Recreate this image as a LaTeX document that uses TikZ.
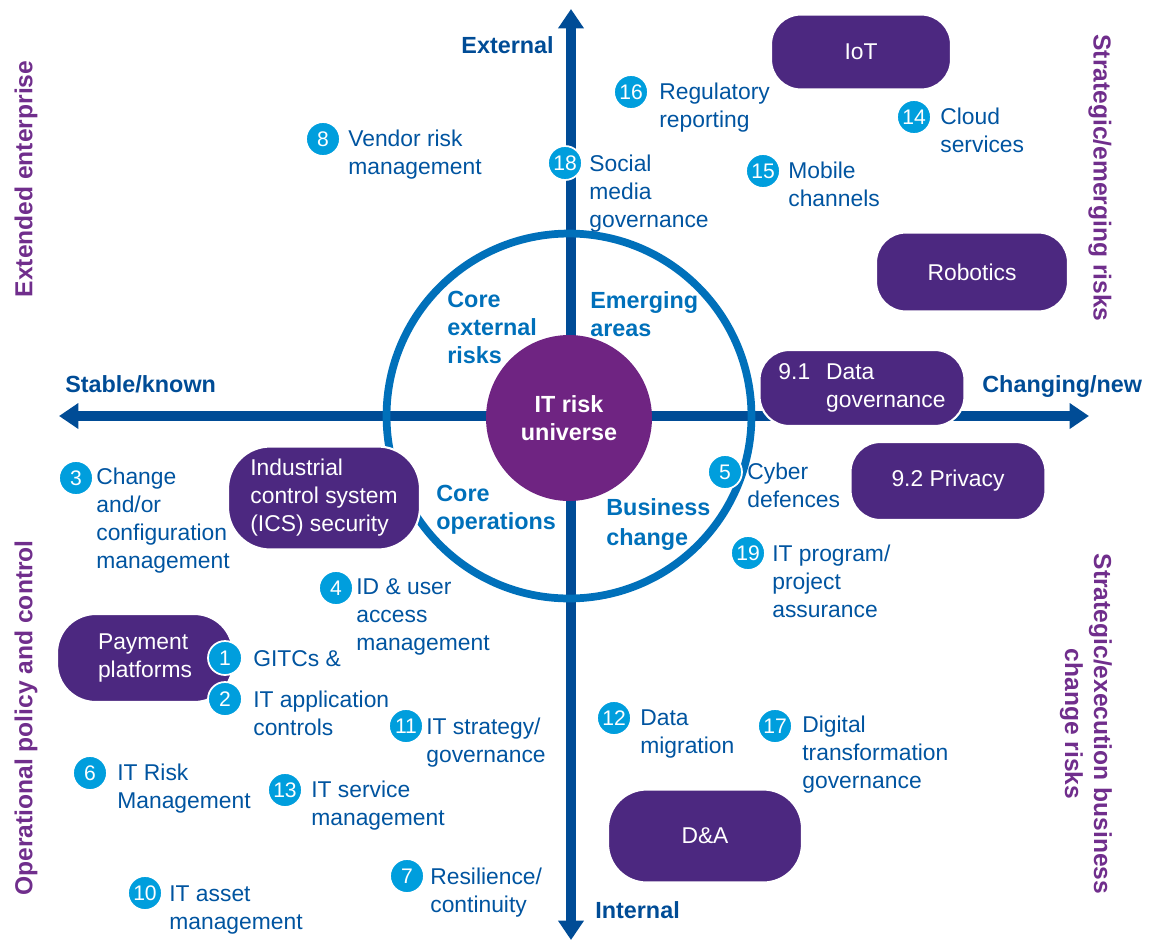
\documentclass[tikz,border=0pt]{standalone}
\usepackage{fontspec}
\setmainfont{Liberation Sans}
\usetikzlibrary{arrows.meta,positioning}

\definecolor{axisblue}{RGB}{0,76,150}
\definecolor{ringblue}{RGB}{0,112,186}
\definecolor{textblue}{RGB}{0,84,160}
\definecolor{numcyan}{RGB}{0,158,221}
\definecolor{pillpurple}{RGB}{76,40,128}
\definecolor{corepurple}{RGB}{111,36,130}
\definecolor{sidepurple}{RGB}{112,46,140}

\begin{document}
\begin{tikzpicture}
          [x=0.02cm, y=-0.02cm,
          font=\fontsize{13}{15.9}\selectfont,
          axis/.style={<->,>={Triangle[length=11pt,width=14pt]},draw=axisblue,line width=5.5pt},
          axislabel/.style={text=axisblue,font=\fontsize{13.3}{16}\selectfont\bfseries,inner sep=0pt},
          quadlabel/.style={text=ringblue,font=\fontsize{13.3}{15.8}\selectfont\bfseries,align=left,anchor=north west,inner sep=0pt},
          sidelabel/.style={text=sidepurple,font=\fontsize{14}{16.5}\selectfont\bfseries,align=center},
          pill/.style={fill=pillpurple,draw=white,line width=1.2pt,rounded corners=17pt,text=white,align=left},
          num/.style={shape=circle,fill=numcyan,draw=white,line width=1pt,text=white,minimum size=0.68cm,inner sep=0pt,font=\fontsize{12}{12}\selectfont},
          item/.style={text=textblue,align=left,anchor=north west,inner sep=0pt}]

          \useasboundingbox (0,0) rectangle (1157,941);

          % axes
          \coordinate (top) at (571,9);
          \coordinate (bottom) at (571,940);
          \coordinate (left) at (59,416);
          \coordinate (right) at (1089,416);
          \draw [axis] (bottom) -- (top);
          \draw [axis] (left) -- (right);

          \node (ext) [axislabel, anchor=base east] at (554,53) {External};
          \node (int) [axislabel, anchor=base west] at (595,918) {Internal};
          \node (stable) [axislabel, anchor=base west] at (65,392) {Stable/known};
          \node (changing) [axislabel, anchor=base west] at (982,392) {Changing/new};

          \node (ring) [shape=circle, draw=ringblue, line width=4.4pt, minimum size=7.3cm] at (569,416) {};
          \node (core) [shape=circle, fill=corepurple, text=white, minimum size=3.32cm, align=center, font=\fontsize{13.3}{15.9}\selectfont\bfseries] at (569,418) {IT risk\\universe};

          \node (q1) [quadlabel] at (447,291) {Core\\external\\risks};
          \node (q2) [quadlabel] at (590,291) {Emerging\\areas};
          \node (q3) [quadlabel] at (436,485) {Core\\operations};
          \node (q4) [quadlabel, font=\fontsize{13.3}{17}\selectfont\bfseries] at (606,498) {Business\\change};

          % side labels
          \node (extent) [sidelabel, rotate=90] at (26,179) {Extended enterprise};
          \node (oppol) [sidelabel, rotate=90] at (26,718) {Operational policy and control};
          \node (stratem) [sidelabel, rotate=-90] at (1100,178) {Strategic/emerging risks};
          \node (stratex) [sidelabel, rotate=-90] at (1086,724) {Strategic/execution business\\change risks};

          % pills
          \node (iot) [pill, minimum width=3.6cm, minimum height=1.5cm] at (861,52) {IoT};
          \node (robotics) [pill, minimum width=3.84cm, minimum height=1.58cm] at (972,272) {Robotics};
          \node (datagov) [pill, minimum width=4.1cm, minimum height=1.52cm] at (862,388) {9.1\hspace{0.7em}Data\\\hphantom{9.1\hspace{0.7em}}governance};
          \node (privacy) [pill, minimum width=3.9cm, minimum height=1.56cm] at (948,481) {9.2 Privacy};
          \node (dna) [pill, minimum width=3.88cm, minimum height=1.86cm, rounded corners=22pt] at (705,836) {D\&A};
          \node (ics) [pill, minimum width=3.84cm, minimum height=2.06cm, rounded corners=24pt] at (324,498) {Industrial\\control system\\(ICS) security};
          \node (payment) [pill, minimum width=3.52cm, minimum height=1.76cm, rounded corners=22pt] at (145,658) {Payment\\platforms};

          % numbered risks
          \node (n8) [num] at (323,139) {8};
          \node (t8) [item] at (348,130) {Vendor risk\\management};
          \node (n18) [num] at (565,163) {18};
          \node (t18) [item] at (589,155) {Social\\media\\governance};
          \node (n16) [num] at (631,92) {16};
          \node (t16) [item] at (659,83) {Regulatory\\reporting};
          \node (n15) [num] at (763,171) {15};
          \node (t15) [item] at (788,162) {Mobile\\channels};
          \node (n14) [num] at (914,117) {14};
          \node (t14) [item] at (940,108) {Cloud\\services};
          \node (n3) [num] at (76,478) {3};
          \node (t3) [item] at (96,468) {Change\\and/or\\configuration\\management};
          \node (n4) [num] at (336,588) {4};
          \node (t4) [item] at (356,578) {ID \& user\\access\\management};
          \node (n1) [num] at (225,658) {1};
          \node (t1) [item] at (253,650) {GITCs \&};
          \node (n2) [num] at (225,699) {2};
          \node (t2) [item] at (253,691) {IT application\\controls};
          \node (n11) [num] at (406,726) {11};
          \node (t11) [item] at (426,718) {IT strategy/\\governance};
          \node (n6) [num] at (90,773) {6};
          \node (t6) [item] at (117,764) {IT Risk\\Management};
          \node (n13) [num] at (285,790) {13};
          \node (t13) [item] at (311,781) {IT service\\management};
          \node (n10) [num] at (145,893) {10};
          \node (t10) [item] at (169,885) {IT asset\\management};
          \node (n7) [num] at (407,876) {7};
          \node (t7) [item] at (430,868) {Resilience/\\continuity};
          \node (n5) [num] at (725,472) {5};
          \node (t5) [item] at (747,463) {Cyber\\defences};
          \node (n19) [num] at (748,553) {19};
          \node (t19) [item] at (772,545) {IT program/\\project\\assurance};
          \node (n12) [num] at (614,718) {12};
          \node (t12) [item] at (640,709) {Data\\migration};
          \node (n17) [num] at (775,726) {17};
          \node (t17) [item] at (802,716) {Digital\\transformation\\governance};

\end{tikzpicture}
\end{document}
